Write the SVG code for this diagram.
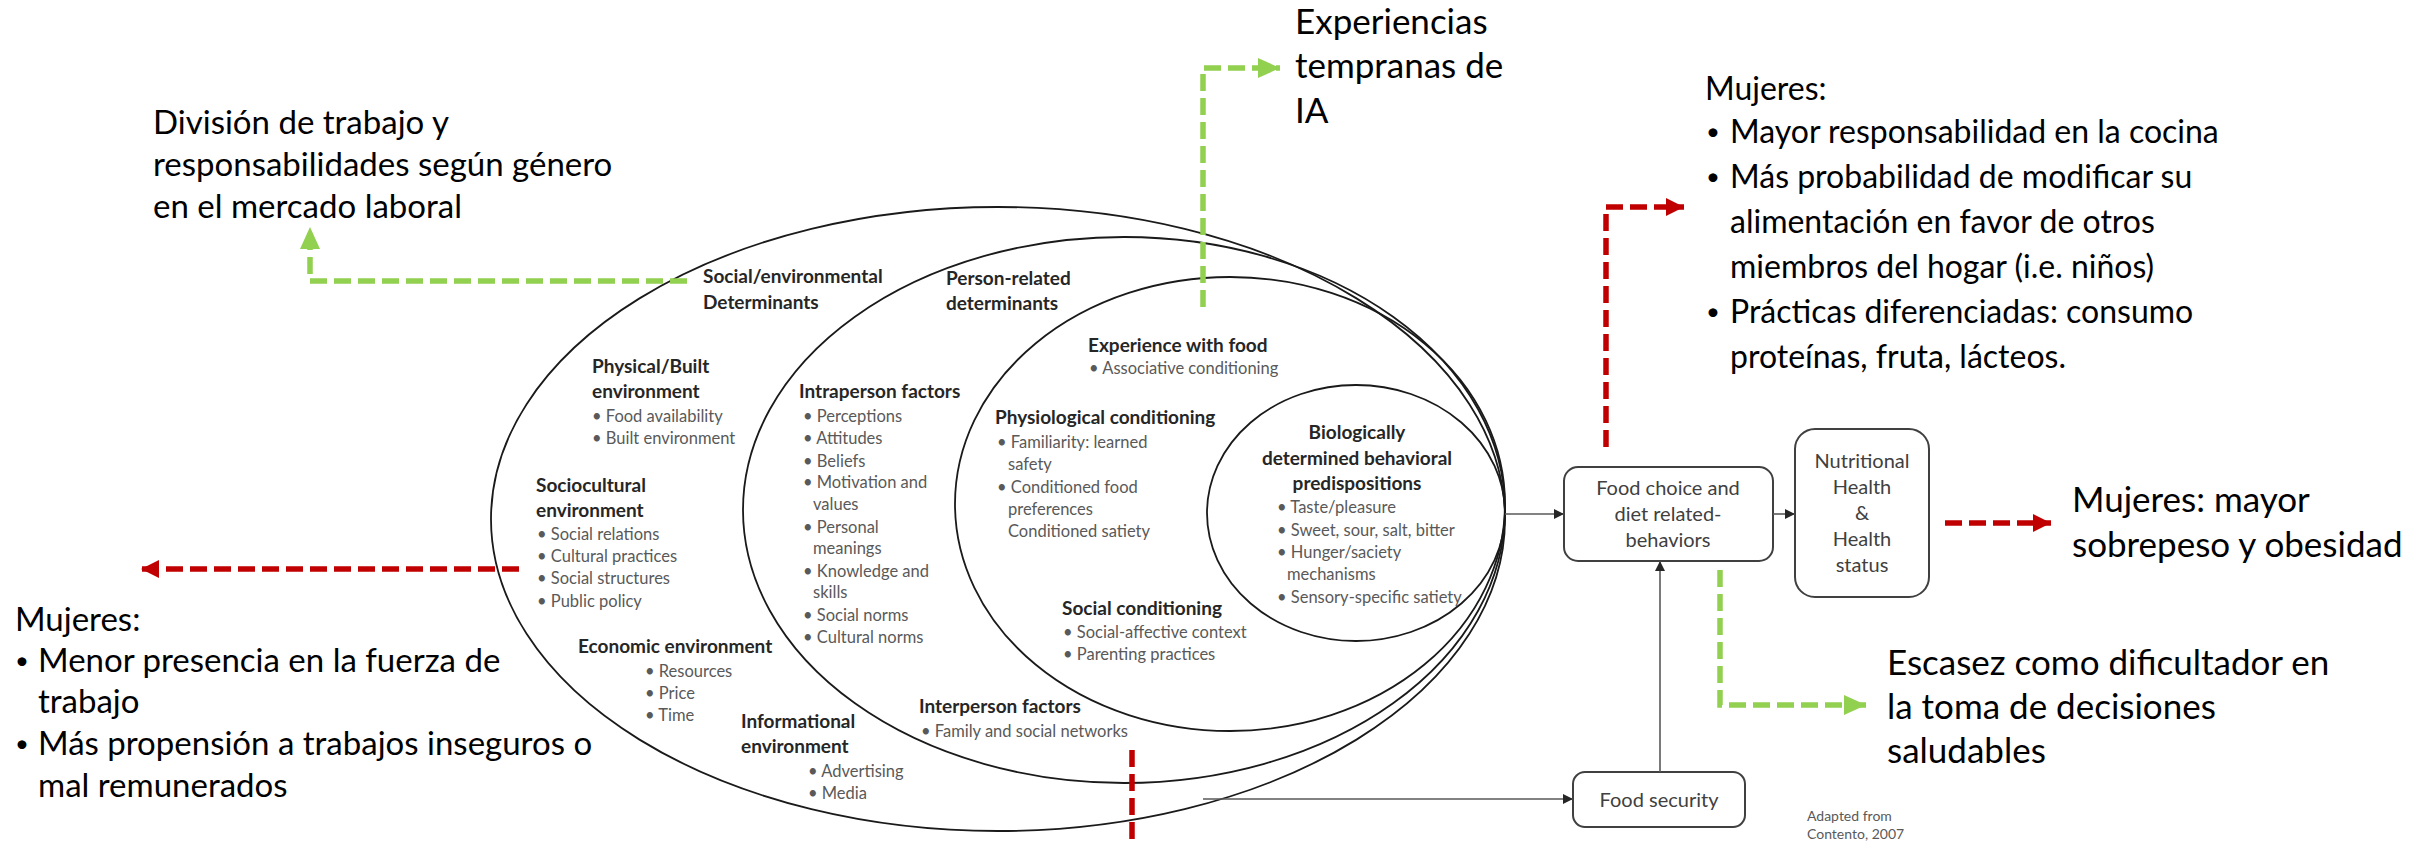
<svg xmlns="http://www.w3.org/2000/svg" width="2428" height="843" viewBox="0 0 2428 843">
<style>
text{font-family:Lato,"Liberation Sans",sans-serif}
.h{font-weight:700;font-size:19px;fill:#262626}
.b{font-size:16.5px;fill:#595959}
.big{font-size:35px;fill:#000}
.bigR{font-size:32px;fill:#000}
.bigL{font-size:33px;fill:#000}
.bul{font-size:24px}
.bx{font-size:20px;fill:#404040}
.sm{font-size:14px;fill:#595959}
.ell{fill:none;stroke:#1a1a1a;stroke-width:1.8}
.box{fill:#fff;stroke:#404040;stroke-width:2}
.ln{fill:none;stroke:#595959;stroke-width:1.6}
.g{fill:none;stroke:#92D050;stroke-width:5.5;stroke-dasharray:17 7}
.r{fill:none;stroke:#C00000;stroke-width:5.5;stroke-dasharray:17 7}
</style>
<defs>
<marker id="ab" markerUnits="userSpaceOnUse" markerWidth="12" markerHeight="10" refX="10" refY="5" orient="auto"><path d="M0,0 L10,5 L0,10 Z" fill="#262626"/></marker>
<marker id="ag" markerUnits="userSpaceOnUse" markerWidth="24" markerHeight="20" refX="22" refY="10" orient="auto"><path d="M0,0 L22,10 L0,20 Z" fill="#92D050"/></marker>
<marker id="ar" markerUnits="userSpaceOnUse" markerWidth="20" markerHeight="20" refX="18" refY="9" orient="auto"><path d="M0,0 L18,9 L0,18 Z" fill="#C00000"/></marker>
</defs>

<g id="social-environmental">
<ellipse class="ell" cx="998" cy="519" rx="507" ry="312"/>
<text class="h"><tspan x="703" y="283">Social/environmental</tspan><tspan x="703" y="309">Determinants</tspan></text>
<text class="h"><tspan x="592" y="373">Physical/Built</tspan><tspan x="592" y="398">environment</tspan></text>
<text class="b"><tspan x="592" y="422">• Food availability</tspan><tspan x="592" y="444">• Built environment</tspan></text>
<text class="h"><tspan x="536" y="492">Sociocultural</tspan><tspan x="536" y="517">environment</tspan></text>
<text class="b"><tspan x="537" y="540">• Social relations</tspan><tspan x="537" y="562">• Cultural practices</tspan><tspan x="537" y="584">• Social structures</tspan><tspan x="537" y="607">• Public policy</tspan></text>
<text class="h" x="578" y="653">Economic environment</text>
<text class="b"><tspan x="645" y="677">•   Resources</tspan><tspan x="645" y="699">•   Price</tspan><tspan x="645" y="721">•   Time</tspan></text>
<text class="h"><tspan x="741" y="728">Informational</tspan><tspan x="741" y="753">environment</tspan></text>
<text class="b"><tspan x="808" y="777">•   Advertising</tspan><tspan x="808" y="799">•   Media</tspan></text>
</g>

<g id="person-related">
<ellipse class="ell" cx="1124" cy="510" rx="381" ry="273"/>
<text class="h"><tspan x="946" y="285">Person-related</tspan><tspan x="946" y="310">determinants</tspan></text>
<text class="h" x="799" y="398">Intraperson  factors</text>
<text class="b"><tspan x="803" y="422">• Perceptions</tspan><tspan x="803" y="444">• Attitudes</tspan><tspan x="803" y="467">• Beliefs</tspan><tspan x="803" y="488">• Motivation and</tspan><tspan x="813" y="510">values</tspan><tspan x="803" y="533">• Personal</tspan><tspan x="813" y="554">meanings</tspan><tspan x="803" y="577">• Knowledge and</tspan><tspan x="813" y="598">skills</tspan><tspan x="803" y="621">• Social norms</tspan><tspan x="803" y="643">• Cultural norms</tspan></text>
<text class="h" x="919" y="713">Interperson factors</text>
<text class="b" x="921" y="737">• Family and social networks</text>
</g>

<g id="experience-with-food">
<ellipse class="ell" cx="1230" cy="504" rx="275" ry="227"/>
<text class="h" x="1088" y="352">Experience with food</text>
<text class="b" x="1089" y="374">• Associative conditioning</text>
<text class="h" x="995" y="424">Physiological conditioning</text>
<text class="b"><tspan x="997" y="448">• Familiarity: learned</tspan><tspan x="1008" y="470">safety</tspan><tspan x="997" y="493">• Conditioned food</tspan><tspan x="1008" y="515">preferences</tspan><tspan x="1008" y="537">Conditioned satiety</tspan></text>
<text class="h" x="1062" y="615">Social conditioning</text>
<text class="b"><tspan x="1063" y="638">• Social-affective context</tspan><tspan x="1063" y="660">• Parenting practices</tspan></text>
</g>

<g id="biological">
<ellipse class="ell" cx="1356" cy="513" rx="149" ry="128"/>
<text class="h" text-anchor="middle"><tspan x="1357" y="439">Biologically</tspan><tspan x="1357" y="465">determined behavioral</tspan><tspan x="1357" y="490">predispositions</tspan></text>
<text class="b"><tspan x="1277" y="513">• Taste/pleasure</tspan><tspan x="1277" y="536">• Sweet, sour, salt, bitter</tspan><tspan x="1277" y="558">• Hunger/saciety</tspan><tspan x="1287" y="580">mechanisms</tspan><tspan x="1277" y="603">• Sensory-specific satiety</tspan></text>
</g>

<g id="food-choice">
<rect class="box" x="1564" y="467" width="209" height="94" rx="14"/>
<text class="bx" text-anchor="middle"><tspan x="1668" y="495">Food choice and</tspan><tspan x="1668" y="521">diet related-</tspan><tspan x="1668" y="547">behaviors</tspan></text>
</g>

<g id="nutritional-health">
<rect class="box" x="1795" y="429" width="134" height="168" rx="20"/>
<text class="bx" text-anchor="middle"><tspan x="1862" y="468">Nutritional</tspan><tspan x="1862" y="494">Health</tspan><tspan x="1862" y="520">&amp;</tspan><tspan x="1862" y="546">Health</tspan><tspan x="1862" y="572">status</tspan></text>
</g>

<g id="food-security">
<rect class="box" x="1573" y="772" width="172" height="55" rx="12"/>
<text class="bx" text-anchor="middle" x="1659" y="807">Food security</text>
</g>

<g id="source">
<text class="sm"><tspan x="1807" y="821">Adapted from</tspan><tspan x="1807" y="839">Contento, 2007</tspan></text>
</g>

<g id="note-division">
<text class="bigL"><tspan x="153" y="134">División de trabajo y</tspan><tspan x="153" y="176">responsabilidades según género</tspan><tspan x="153" y="218">en el mercado laboral</tspan></text>
</g>

<g id="note-experiencias">
<text class="big"><tspan x="1295" y="34">Experiencias</tspan><tspan x="1295" y="78">tempranas de</tspan><tspan x="1295" y="123">IA</tspan></text>
</g>

<g id="note-mujeres-cocina">
<text class="bigR"><tspan x="1705" y="100">Mujeres:</tspan><tspan class="bul" x="1706" y="140">•</tspan><tspan x="1730" y="143">Mayor responsabilidad en la cocina</tspan><tspan class="bul" x="1706" y="185">•</tspan><tspan x="1730" y="188">Más probabilidad de modificar su</tspan><tspan x="1730" y="233">alimentación en favor de otros</tspan><tspan x="1730" y="278">miembros del hogar (i.e. niños)</tspan><tspan class="bul" x="1706" y="320">•</tspan><tspan x="1730" y="323">Prácticas diferenciadas: consumo</tspan><tspan x="1730" y="368">proteínas, fruta, lácteos.</tspan></text>
</g>

<g id="note-sobrepeso">
<text class="big"><tspan x="2072" y="512">Mujeres: mayor</tspan><tspan x="2072" y="557">sobrepeso y obesidad</tspan></text>
</g>

<g id="note-escasez">
<text class="big"><tspan x="1887" y="675">Escasez como dificultador en</tspan><tspan x="1887" y="719">la toma de decisiones</tspan><tspan x="1887" y="763">saludables</tspan></text>
</g>

<g id="note-mujeres-trabajo">
<text class="bigL"><tspan x="15" y="631">Mujeres:</tspan><tspan class="bul" x="15" y="669">•</tspan><tspan x="38" y="672">Menor presencia en la fuerza de</tspan><tspan x="38" y="713">trabajo</tspan><tspan class="bul" x="15" y="752">•</tspan><tspan x="38" y="755">Más propensión a trabajos inseguros o</tspan><tspan x="38" y="797">mal remunerados</tspan></text>
</g>

<g id="connectors">
<path class="ln" d="M1505 514 H1564" marker-end="url(#ab)"/>
<path class="ln" d="M1773 514 H1795" marker-end="url(#ab)"/>
<path class="ln" d="M1660 772 V561" marker-end="url(#ab)"/>
<path class="ln" d="M1203 799 H1573" marker-end="url(#ab)"/>
<path class="g" d="M687 281 H310 V227" marker-end="url(#ag)"/>
<path class="g" d="M1203 307 V68 H1280" marker-end="url(#ag)"/>
<path class="g" d="M1720 570 V705 H1866" marker-end="url(#ag)"/>
<path class="r" d="M519 569 H141" marker-end="url(#ar)"/>
<path class="r" d="M1606 447 V207 H1684" marker-end="url(#ar)"/>
<path class="r" d="M1945 523 H2051" marker-end="url(#ar)"/>
<path class="r" d="M1132 750 V843"/>
</g>
</svg>
